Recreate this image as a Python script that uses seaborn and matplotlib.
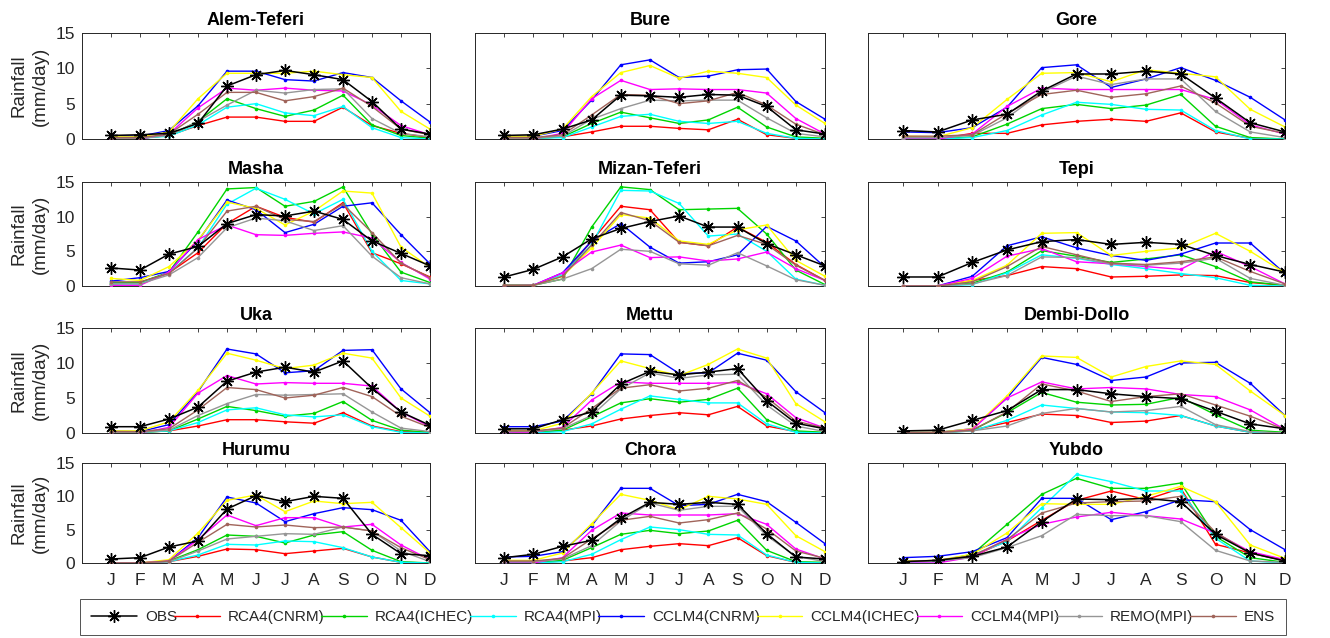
import numpy as np
import pandas as pd
import matplotlib
matplotlib.use("Agg")
import matplotlib.pyplot as plt
import seaborn as sns
from matplotlib.lines import Line2D

months = ["J", "F", "M", "A", "M", "J", "J", "A", "S", "O", "N", "D"]
series_names = ["OBS", "RCA4(CNRM)", "RCA4(ICHEC)", "RCA4(MPI)", "CCLM4(CNRM)",
                "CCLM4(ICHEC)", "CCLM4(MPI)", "REMO(MPI)", "ENS"]
stations = ["Alem-Teferi", "Bure", "Gore", "Masha", "Mizan-Teferi", "Tepi",
            "Uka", "Mettu", "Dembi-Dollo", "Hurumu", "Chora", "Yubdo"]

# rows follow series_names order
alem_teferi = [
    [0.5, 0.6, 0.8, 2.2, 7.5, 9.1, 9.7, 9.1, 8.4, 5.3, 1.4, 0.7],
    [0.1, 0.1, 0.5, 1.9, 3.1, 3.1, 2.5, 2.5, 4.5, 1.9, 0.8, 0.2],
    [0.1, 0.1, 0.5, 2.5, 5.7, 4.3, 3.2, 4.1, 6.2, 2.0, 0.5, 0.1],
    [0.1, 0.1, 0.4, 2.0, 4.5, 5.0, 3.7, 3.3, 4.6, 1.6, 0.2, 0.0],
    [0.5, 0.4, 1.2, 4.7, 9.6, 9.6, 8.4, 8.2, 9.4, 8.7, 5.4, 2.4],
    [0.3, 0.3, 1.0, 5.7, 9.3, 9.3, 9.3, 9.6, 9.1, 8.7, 3.9, 1.4],
    [0.0, 0.0, 0.7, 4.4, 7.2, 6.9, 7.2, 6.9, 6.8, 4.8, 1.9, 0.6],
    [0.1, 0.1, 0.5, 2.5, 4.8, 6.9, 6.5, 7.0, 7.1, 2.9, 0.8, 0.3],
    [0.2, 0.2, 0.7, 3.5, 6.6, 6.6, 5.4, 6.0, 7.2, 4.6, 1.4, 0.6],
]
bure = [
    [0.5, 0.6, 1.4, 2.7, 6.2, 6.1, 5.9, 6.3, 6.2, 4.6, 1.3, 0.7],
    [0.1, 0.1, 0.3, 1.0, 1.8, 1.8, 1.5, 1.3, 2.8, 0.6, 0.1, 0.0],
    [0.1, 0.1, 0.3, 2.2, 3.8, 3.0, 2.2, 2.7, 4.5, 1.7, 0.3, 0.1],
    [0.0, 0.1, 0.2, 1.7, 3.2, 3.5, 2.5, 2.2, 2.5, 0.8, 0.1, 0.0],
    [0.4, 0.4, 1.2, 5.5, 10.5, 11.2, 8.7, 8.9, 9.8, 9.9, 5.3, 2.8],
    [0.4, 0.4, 1.4, 6.0, 9.4, 10.4, 8.6, 9.6, 9.3, 8.7, 4.8, 2.2],
    [0.0, 0.0, 0.8, 5.7, 8.3, 7.0, 7.1, 7.0, 7.0, 6.5, 2.9, 0.7],
    [0.1, 0.1, 0.4, 2.8, 4.3, 5.5, 5.4, 5.5, 5.5, 3.0, 0.8, 0.3],
    [0.2, 0.2, 0.6, 3.4, 6.3, 6.2, 5.0, 5.4, 6.6, 4.8, 2.1, 0.6],
]
gore = [
    [1.2, 1.0, 2.7, 3.5, 6.8, 9.2, 9.2, 9.6, 9.2, 5.8, 2.3, 1.0],
    [0.0, 0.0, 0.8, 0.8, 2.0, 2.5, 2.8, 2.5, 3.7, 1.0, 0.1, 0.0],
    [0.0, 0.0, 0.3, 2.1, 4.3, 4.9, 4.3, 4.8, 6.3, 1.8, 0.2, 0.0],
    [0.0, 0.0, 0.2, 1.2, 3.4, 5.2, 4.9, 4.2, 4.1, 1.2, 0.0, 0.0],
    [1.0, 0.9, 1.6, 4.5, 10.1, 10.5, 7.3, 8.5, 10.1, 8.3, 5.9, 2.7],
    [0.4, 0.3, 1.6, 5.6, 9.3, 9.4, 8.1, 9.8, 9.3, 8.8, 4.2, 1.7],
    [0.0, 0.0, 0.7, 4.6, 7.2, 7.0, 7.0, 7.0, 7.0, 5.6, 2.0, 0.7],
    [0.2, 0.2, 0.5, 3.0, 6.6, 8.9, 7.7, 8.5, 8.5, 3.9, 1.0, 0.2],
    [0.4, 0.4, 0.6, 3.6, 6.3, 6.9, 5.9, 6.4, 7.5, 5.1, 1.8, 0.8],
]
masha = [
    [2.6, 2.3, 4.6, 5.7, 9.0, 10.3, 10.1, 10.8, 9.6, 6.5, 4.7, 2.9],
    [0.3, 0.5, 1.9, 4.8, 9.0, 11.5, 9.9, 9.2, 12.0, 4.8, 3.2, 1.3],
    [0.5, 0.5, 2.0, 7.8, 14.0, 14.2, 11.5, 12.2, 14.3, 7.5, 2.0, 0.5],
    [0.3, 0.3, 1.9, 5.5, 11.8, 14.1, 12.5, 10.4, 12.5, 5.0, 0.8, 0.3],
    [0.7, 1.2, 2.1, 6.5, 12.4, 11.0, 7.7, 8.9, 11.5, 12.0, 7.4, 3.2],
    [1.1, 0.8, 2.8, 6.6, 12.1, 11.2, 8.8, 10.8, 13.7, 13.4, 5.6, 2.7],
    [0.1, 0.1, 2.0, 6.7, 8.8, 7.4, 7.3, 7.6, 7.8, 6.9, 3.4, 1.0],
    [0.3, 0.3, 1.6, 4.1, 8.4, 9.8, 9.4, 8.0, 8.7, 4.3, 1.2, 0.3],
    [0.6, 0.6, 1.8, 5.5, 10.8, 11.5, 9.6, 9.3, 11.8, 7.7, 3.3, 1.2],
]
mizan_teferi = [
    [1.3, 2.4, 4.2, 6.8, 8.3, 9.3, 10.1, 8.5, 8.5, 6.1, 4.5, 2.9],
    [0.1, 0.1, 1.5, 6.5, 11.5, 11.0, 6.3, 5.8, 8.5, 6.3, 3.1, 0.8],
    [0.1, 0.1, 1.0, 8.5, 14.3, 13.9, 11.0, 11.1, 11.2, 7.5, 2.3, 0.2],
    [0.1, 0.1, 1.6, 6.0, 13.8, 13.7, 11.9, 7.2, 7.5, 5.0, 1.0, 0.1],
    [0.1, 0.1, 1.9, 6.5, 9.0, 5.6, 3.3, 3.5, 4.5, 8.6, 6.5, 2.7],
    [0.1, 0.1, 1.4, 5.5, 10.3, 9.8, 6.5, 6.0, 8.1, 8.8, 3.7, 1.4],
    [0.0, 0.1, 1.9, 4.9, 5.9, 4.1, 4.2, 3.6, 3.9, 4.9, 2.5, 0.8],
    [0.1, 0.1, 1.0, 2.5, 5.3, 5.0, 3.2, 3.0, 4.8, 2.9, 0.9, 0.1],
    [0.1, 0.1, 1.4, 5.9, 10.6, 9.4, 6.3, 5.8, 7.3, 6.0, 3.0, 0.8],
]
tepi = [
    [1.3, 1.3, 3.4, 5.2, 6.4, 6.7, 6.0, 6.3, 6.0, 4.4, 3.1, 2.0],
    [0.0, 0.0, 0.8, 1.5, 2.8, 2.5, 1.3, 1.4, 1.6, 1.5, 0.5, 0.1],
    [0.0, 0.0, 0.4, 2.0, 5.1, 4.3, 3.4, 3.9, 4.5, 2.8, 0.6, 0.1],
    [0.0, 0.0, 0.2, 1.9, 4.5, 4.0, 3.1, 2.5, 1.8, 1.2, 0.1, 0.0],
    [0.0, 0.0, 1.4, 5.8, 7.1, 5.5, 4.4, 3.7, 4.6, 6.2, 6.2, 1.8],
    [0.0, 0.0, 0.8, 3.0, 7.6, 7.7, 4.4, 5.0, 5.5, 7.6, 5.0, 1.9],
    [0.0, 0.0, 1.1, 4.3, 5.4, 3.5, 3.2, 2.8, 2.4, 5.0, 2.8, 0.3],
    [0.0, 0.0, 0.3, 1.5, 4.2, 4.1, 3.2, 3.0, 3.3, 4.0, 1.1, 0.1],
    [0.0, 0.0, 0.6, 2.8, 5.7, 4.5, 3.3, 3.1, 3.5, 4.2, 2.1, 0.3],
]
uka = [
    [0.9, 0.9, 2.0, 3.7, 7.4, 8.7, 9.4, 8.7, 10.3, 6.4, 3.0, 1.1],
    [0.1, 0.1, 0.3, 1.0, 1.9, 1.9, 1.6, 1.4, 2.9, 1.0, 0.2, 0.1],
    [0.1, 0.1, 0.3, 2.0, 3.8, 3.2, 2.4, 2.8, 4.5, 1.8, 0.4, 0.1],
    [0.1, 0.1, 0.3, 1.5, 3.3, 3.6, 2.6, 2.3, 2.6, 0.9, 0.1, 0.0],
    [0.3, 0.2, 1.2, 5.9, 12.0, 11.3, 8.6, 8.9, 11.8, 11.9, 6.3, 2.9],
    [0.3, 0.3, 1.6, 6.1, 11.4, 10.4, 9.2, 9.7, 11.4, 10.7, 5.0, 2.4],
    [0.0, 0.0, 0.8, 5.7, 8.2, 7.0, 7.2, 7.1, 7.1, 6.7, 3.0, 0.9],
    [0.1, 0.1, 0.4, 2.5, 4.2, 5.5, 5.4, 5.5, 5.6, 3.0, 0.7, 0.2],
    [0.2, 0.2, 0.6, 3.3, 6.5, 6.2, 5.0, 5.4, 6.5, 5.2, 2.4, 0.8],
]
mettu = [
    [0.6, 0.6, 1.9, 3.0, 7.0, 8.8, 8.3, 8.7, 9.2, 4.6, 1.4, 0.6],
    [0.0, 0.0, 0.4, 1.0, 2.0, 2.5, 2.9, 2.6, 3.8, 1.0, 0.2, 0.0],
    [0.1, 0.1, 0.4, 2.3, 4.3, 4.9, 4.4, 4.8, 6.4, 1.9, 0.3, 0.1],
    [0.0, 0.0, 0.2, 1.3, 3.4, 5.3, 4.8, 4.3, 4.3, 1.3, 0.1, 0.0],
    [0.9, 0.9, 1.7, 5.6, 11.3, 11.2, 8.5, 8.6, 11.4, 10.4, 5.9, 2.9],
    [0.4, 0.3, 1.4, 5.7, 10.3, 9.2, 8.2, 9.8, 12.0, 10.7, 4.2, 1.6],
    [0.0, 0.1, 0.8, 4.7, 7.3, 7.1, 7.1, 7.1, 7.2, 5.6, 2.2, 0.7],
    [0.2, 0.2, 0.6, 2.5, 6.3, 8.6, 7.8, 8.3, 8.4, 4.0, 1.0, 0.2],
    [0.3, 0.3, 0.7, 3.5, 6.4, 6.9, 6.0, 6.4, 7.5, 5.1, 1.7, 0.7],
]
dembi_dollo = [
    [0.3, 0.4, 1.8, 3.2, 6.2, 6.2, 5.6, 5.2, 4.9, 3.1, 1.3, 0.6],
    [0.0, 0.0, 0.4, 1.5, 2.7, 2.5, 1.5, 1.7, 2.5, 1.0, 0.1, 0.0],
    [0.0, 0.0, 0.4, 2.9, 5.8, 4.4, 4.0, 4.1, 5.1, 2.6, 0.4, 0.1],
    [0.0, 0.0, 0.3, 1.8, 4.0, 3.5, 3.0, 2.9, 2.5, 1.0, 0.1, 0.0],
    [0.1, 0.1, 0.6, 5.0, 10.8, 9.8, 7.5, 8.0, 10.0, 10.1, 7.1, 2.5],
    [0.1, 0.1, 0.6, 5.3, 11.0, 10.8, 8.0, 9.5, 10.3, 9.8, 6.0, 2.5],
    [0.0, 0.0, 0.5, 5.0, 7.3, 6.3, 6.5, 6.3, 5.5, 5.2, 3.3, 0.5],
    [0.0, 0.0, 0.3, 1.0, 2.8, 3.5, 3.0, 3.2, 3.8, 1.2, 0.2, 0.0],
    [0.0, 0.1, 0.4, 3.0, 7.0, 6.0, 4.5, 5.2, 5.6, 4.0, 2.4, 0.5],
]
hurumu = [
    [0.6, 0.8, 2.4, 3.3, 8.1, 10.1, 9.2, 10.0, 9.7, 4.3, 1.4, 1.1],
    [0.0, 0.0, 0.2, 1.0, 2.1, 2.0, 1.4, 1.8, 2.2, 0.9, 0.1, 0.0],
    [0.0, 0.0, 0.3, 2.0, 4.2, 4.0, 3.0, 4.2, 4.7, 1.9, 0.2, 0.0],
    [0.0, 0.0, 0.2, 1.2, 2.8, 2.7, 3.3, 3.2, 2.3, 0.9, 0.1, 0.0],
    [0.0, 0.0, 0.3, 3.8, 9.9, 9.0, 6.2, 7.4, 8.3, 8.0, 6.4, 1.7],
    [0.0, 0.0, 0.5, 4.5, 9.4, 10.2, 7.7, 9.3, 8.9, 9.1, 5.3, 1.5],
    [0.0, 0.0, 0.3, 3.5, 7.2, 5.6, 6.8, 6.8, 5.4, 5.8, 2.7, 0.5],
    [0.0, 0.0, 0.2, 1.8, 3.6, 4.0, 4.4, 4.3, 5.4, 4.8, 1.8, 0.2],
    [0.0, 0.0, 0.3, 3.1, 5.8, 5.4, 5.7, 5.3, 5.4, 4.8, 2.3, 0.5],
]
chora = [
    [0.8, 1.3, 2.5, 3.4, 6.7, 9.1, 8.8, 9.1, 8.8, 4.4, 0.9, 0.6],
    [0.0, 0.0, 0.3, 0.8, 2.0, 2.5, 2.9, 2.6, 3.8, 1.1, 0.1, 0.0],
    [0.0, 0.0, 0.4, 2.3, 4.3, 4.9, 4.4, 4.8, 6.4, 1.9, 0.2, 0.1],
    [0.0, 0.0, 0.2, 1.3, 3.5, 5.4, 5.0, 4.3, 4.2, 1.2, 0.1, 0.0],
    [0.9, 1.0, 1.7, 5.6, 11.2, 11.2, 8.6, 8.8, 10.3, 9.2, 6.1, 2.9],
    [0.4, 0.4, 1.5, 5.9, 10.3, 9.4, 8.0, 10.0, 9.6, 8.8, 4.1, 1.7],
    [0.0, 0.0, 0.8, 4.9, 7.5, 7.2, 7.2, 7.2, 7.4, 5.8, 2.1, 0.6],
    [0.2, 0.2, 0.6, 2.6, 6.3, 9.0, 7.9, 8.5, 8.5, 4.1, 1.0, 0.2],
    [0.3, 0.3, 0.7, 3.6, 6.4, 7.0, 6.0, 6.5, 7.5, 5.1, 1.8, 0.7],
]
yubdo = [
    [0.2, 0.4, 1.0, 2.4, 6.2, 9.6, 9.5, 9.7, 9.2, 4.3, 1.5, 0.3],
    [0.2, 0.3, 1.0, 3.3, 6.4, 9.4, 10.8, 9.5, 11.2, 2.8, 1.5, 0.4],
    [0.2, 0.3, 1.3, 5.8, 10.3, 12.7, 11.2, 11.2, 12.0, 4.0, 0.8, 0.1],
    [0.1, 0.2, 1.2, 3.2, 8.3, 13.3, 12.2, 10.8, 10.8, 3.7, 0.3, 0.0],
    [0.8, 1.0, 1.7, 3.8, 9.7, 9.7, 6.5, 7.7, 9.5, 9.2, 5.0, 2.0],
    [0.3, 0.4, 1.3, 4.5, 8.9, 8.8, 8.8, 10.0, 11.5, 9.2, 2.7, 0.7],
    [0.0, 0.0, 0.9, 3.6, 5.8, 6.9, 7.6, 7.1, 6.6, 4.5, 1.7, 0.5],
    [0.2, 0.3, 0.8, 2.3, 4.1, 7.3, 7.1, 7.1, 6.2, 1.9, 0.3, 0.1],
    [0.2, 0.4, 1.1, 3.5, 7.5, 9.0, 9.2, 9.3, 10.0, 4.6, 1.5, 0.3],
]

station_values = [alem_teferi, bure, gore, masha, mizan_teferi, tepi,
                  uka, mettu, dembi_dollo, hurumu, chora, yubdo]

colors = ["#000000", "#ff0000", "#00d400", "#00ffff", "#0000ff",
          "#ffff00", "#ff00ff", "#969696", "#a0645a"]

rows = []
for st, vals in zip(stations, station_values):
    for sname, series in zip(series_names, vals):
        for m, v in enumerate(series, start=1):
            rows.append((st, sname, m, v))
df = pd.DataFrame(rows, columns=["station", "series", "month", "rain"])

sns.set_theme(style="white")
plt.rcParams["font.family"] = ["Liberation Sans", "DejaVu Sans"]

W, H = 1330, 638
fig = plt.figure(figsize=(W / 100, H / 100), dpi=100)

col_px = [(82, 348), (475, 350), (868, 417)]
row_px = [(33, 139), (182, 286), (328, 433), (463, 563)]

OBS_MARKER = (8, 2, 0)
text_col = "#262626"
for i, st in enumerate(stations):
    r, c = divmod(i, 3)
    x0, w = col_px[c]
    y0, y1 = row_px[r]
    ax = fig.add_axes([x0 / W, 1 - y1 / H, w / W, (y1 - y0) / H])
    sub = df[df["station"] == st]
    order = list(range(1, 9)) + [0]
    for k in order:
        sname = series_names[k]
        d = sub[sub["series"] == sname]
        if k == 0:
            sns.lineplot(data=d, x="month", y="rain", ax=ax, color=colors[k],
                         marker=OBS_MARKER, markersize=9, markeredgewidth=1.0,
                         markeredgecolor="black",
                         linewidth=1.1, legend=False, zorder=10)
        else:
            sns.lineplot(data=d, x="month", y="rain", ax=ax, color=colors[k],
                         marker="o", markersize=2.6, markeredgewidth=0,
                         linewidth=1.0, legend=False, zorder=3 + k * 0.1)
    ax.set_xlim(0, 12)
    ax.set_ylim(0, 15)
    ax.set_xticks(range(1, 13))
    ax.set_yticks([0, 5, 10, 15])
    ax.set_xlabel("")
    ax.set_ylabel("")
    ax.tick_params(direction="in", top=True, right=True, length=3,
                   width=0.6, colors="#262626", labelsize=12.5,
                   labelcolor=text_col)
    ax.tick_params(axis="x", pad=7)
    ax.tick_params(axis="y", pad=5)
    if r == 3:
        ax.set_xticklabels(months)
    else:
        ax.set_xticklabels([])
    if c != 0:
        ax.set_yticklabels([])
    else:
        ax.set_ylabel("Rainfall\n(mm/day)", fontsize=13.5, color=text_col,
                      labelpad=5, linespacing=1.3)
    for sp in ax.spines.values():
        sp.set_color("#262626")
        sp.set_linewidth(0.7)
    ax.set_title(st, fontsize=13, fontweight="bold", pad=6, color="black")

handles = []
for k, sname in enumerate(series_names):
    if k == 0:
        h = Line2D([], [], color=colors[k], marker=OBS_MARKER, markersize=9,
                   markeredgewidth=1.0, linewidth=1.1)
    else:
        h = Line2D([], [], color=colors[k], marker="o", markersize=2.6,
                   markeredgewidth=0, linewidth=1.0)
    handles.append(h)

leg_left, leg_right = 80, 1286
leg = fig.legend(handles, series_names, loc="center", ncol=9,
                 bbox_to_anchor=(leg_left / W, 1 - 636 / H,
                                 (leg_right - leg_left) / W, 38 / H),
                 mode="expand", frameon=True, fancybox=False,
                 edgecolor="#262626", fontsize=11, handlelength=3.0,
                 handletextpad=0.5, borderaxespad=0, borderpad=0.75)
leg.get_frame().set_linewidth(0.7)

fig.savefig("out.png", dpi=100)
